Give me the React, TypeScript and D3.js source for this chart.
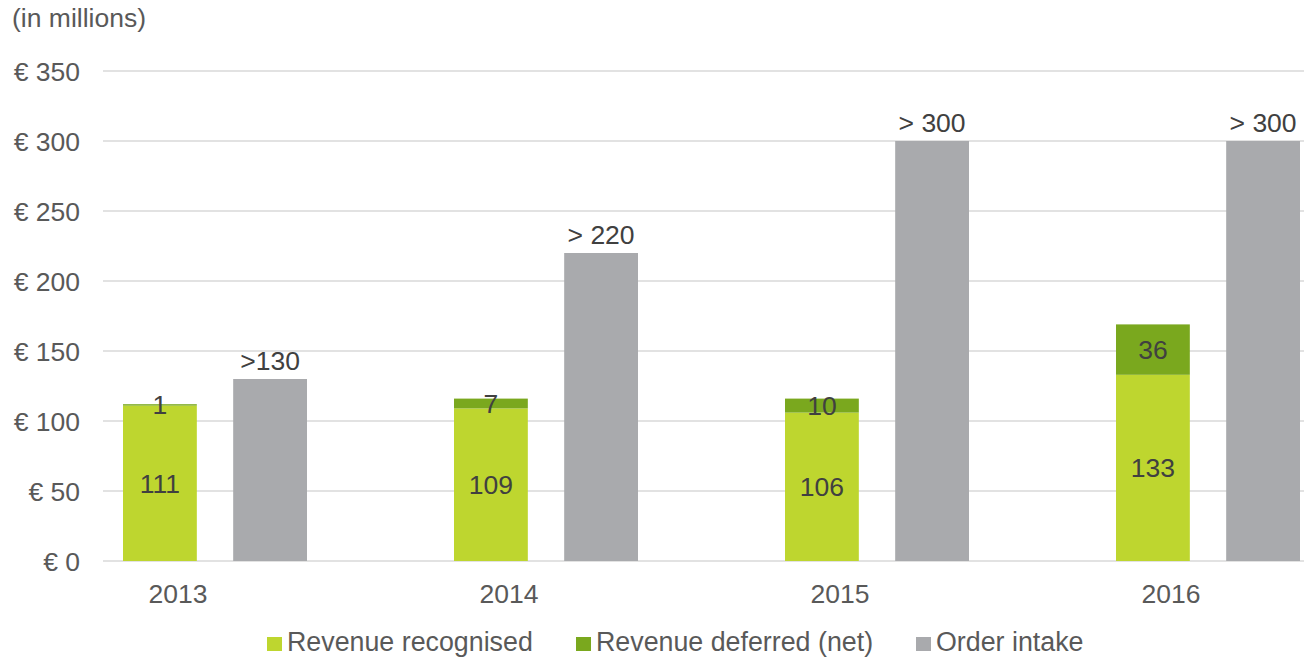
import React from "react";
import * as d3 from "d3";

const years = ["2013", "2014", "2015", "2016"];
const revenueRecognised = [111, 109, 106, 133];
const revenueDeferred = [1, 7, 10, 36];
const orderIntake = [130, 220, 300, 300];
const orderLabels = [">130", "> 220", "> 300", "> 300"];
const yTicks = [0, 50, 100, 150, 200, 250, 300, 350];
const legendItems = ["Revenue recognised", "Revenue deferred (net)", "Order intake"];

const C_REC = "#bed62f";
const C_DEF = "#7aa81e";
const C_ORD = "#a9aaad";
const TXT = "#595959";
const TXT_DARK = "#404040";
const FONT = "'Liberation Sans', Arial, sans-serif";
const FS = 26.5;

export default function App() {
  const W = 1304;
  const H = 660;
  const left = 103;
  const step = 331;
  const y = d3.scaleLinear().domain([0, 350]).range([561, 71]);
  const x = d3
    .scaleBand<string>()
    .domain(years)
    .range([left, left + step * years.length])
    .paddingInner(0)
    .paddingOuter(0);
  const x1 = d3
    .scaleBand<string>()
    .domain(["rev", "ord"])
    .range([20, 204])
    .paddingInner(0.33)
    .paddingOuter(0);
  const bw = x1.bandwidth();
  const legendX = [267, 576, 916];
  const legendColors = [C_REC, C_DEF, C_ORD];

  return (
    <svg
      width={W}
      height={H}
      style={{ position: "absolute", left: 0, top: 0, background: "#fff" }}
      fontFamily={FONT}
    >
      <text x={12} y={27} fontSize={FS} fill={TXT}>
        (in millions)
      </text>
      {yTicks.map((t) => (
        <g key={t}>
          <line x1={left} x2={W} y1={y(t)} y2={y(t)} stroke="#d9d9d9" strokeWidth={1.5} />
          <text x={80} y={y(t)} dy="0.36em" textAnchor="end" fontSize={FS} fill={TXT}>
            {"€ " + t}
          </text>
        </g>
      ))}
      {years.map((yr, i) => {
        const x0 = x(yr)!;
        const xr = x0 + x1("rev")!;
        const xo = x0 + x1("ord")!;
        const rec = revenueRecognised[i];
        const def = revenueDeferred[i];
        const ord = orderIntake[i];
        return (
          <g key={yr}>
            <rect x={xr} width={bw} y={y(rec)} height={y(0) - y(rec)} fill={C_REC} />
            <rect x={xr} width={bw} y={y(rec + def)} height={y(rec) - y(rec + def)} fill={C_DEF} />
            <rect x={xo} width={bw} y={y(ord)} height={y(0) - y(ord)} fill={C_ORD} />
            <text x={xr + bw / 2} y={y(rec / 2)} dy="0.36em" textAnchor="middle" fontSize={FS} fill={TXT_DARK}>
              {rec}
            </text>
            <text x={xr + bw / 2} y={y(rec + def / 2)} dy="0.36em" textAnchor="middle" fontSize={FS} fill={TXT_DARK}>
              {def}
            </text>
            <text x={xo + bw / 2} y={y(ord) - 9} textAnchor="middle" fontSize={FS} fill={TXT_DARK}>
              {orderLabels[i]}
            </text>
            <text x={x0 + 75} y={603} textAnchor="middle" fontSize={FS} fill={TXT}>
              {yr}
            </text>
          </g>
        );
      })}
      {legendItems.map((l, i) => (
        <g key={l}>
          <rect x={legendX[i]} y={637} width={15} height={14} fill={legendColors[i]} />
          <text x={legendX[i] + 20} y={651} fontSize={26.8} fill={TXT}>
            {l}
          </text>
        </g>
      ))}
    </svg>
  );
}
